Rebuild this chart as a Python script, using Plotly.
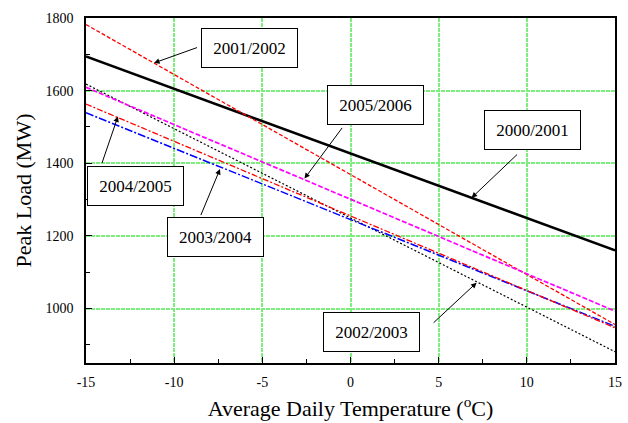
import plotly.graph_objects as go

# Data: regression lines of peak load vs. average daily temperature
temps = [-15, 15]
seasons = ["2000/2001", "2001/2002", "2002/2003", "2003/2004", "2004/2005", "2005/2006"]
load_2000_2001 = [1694, 1160]
load_2001_2002 = [1782, 956]
load_2002_2003 = [1618, 881]
load_2003_2004 = [1539, 951]
load_2004_2005 = [1563, 947]
load_2005_2006 = [1609, 993]

x_ticks = [-15, -10, -5, 0, 5, 10, 15]
x_tick_labels = ["-15", "-10", "-5", "0", "5", "10", "15"]
y_ticks = [1000, 1200, 1400, 1600, 1800]
y_tick_labels = ["1000", "1200", "1400", "1600", "1800"]

FONT = "Liberation Serif"

series = [
    (seasons[0], load_2000_2001, dict(color="black", width=2.5, dash="solid")),
    (seasons[1], load_2001_2002, dict(color="#ff0000", width=1.3, dash="4px,2px")),
    (seasons[2], load_2002_2003, dict(color="black", width=1.2, dash="2px,2px")),
    (seasons[3], load_2003_2004, dict(color="#0000ff", width=1.5, dash="8px,2px,2px,2px")),
    (seasons[4], load_2004_2005, dict(color="#ff0000", width=1.3, dash="6px,2px,2px,2px")),
    (seasons[5], load_2005_2006, dict(color="#ff00ff", width=1.7, dash="5px,2px")),
]

fig = go.Figure()
for name, vals, ln in series:
    fig.add_trace(go.Scatter(x=temps, y=vals, mode="lines", name=name, line=ln,
                             showlegend=False, hoverinfo="skip"))

# label boxes: (text, box centre x, box centre y, arrow tail x, tail y, head x, head y)
labels = [
    ("2001/2002", -5.71, 1716.7, -8.62, 1720.0, -11.14, 1676.3),
    ("2005/2006", 1.40, 1559.8, -0.41, 1501.6, -2.61, 1357.7),
    ("2000/2001", 10.34, 1492.9, 9.53, 1427.9, 6.87, 1305.0),
    ("2004/2005", -12.21, 1338.1, -14.12, 1396.8, -13.19, 1528.9),
    ("2003/2004", -7.67, 1195.8, -8.52, 1253.2, -7.40, 1384.0),
    ("2002/2003", 1.175, 936.5, 4.63, 957.2, 7.15, 1071.1),
]

annotations = []
for text, bx, by, tx, ty, hx, hy in labels:
    annotations.append(dict(
        x=hx, y=hy, xref="x", yref="y", ax=tx, ay=ty, axref="x", ayref="y",
        text="", showarrow=True, arrowhead=2, arrowsize=1.1, arrowwidth=1,
        arrowcolor="black", standoff=0, startstandoff=0))
    annotations.append(dict(
        x=bx, y=by, xref="x", yref="y", text=text, showarrow=False,
        font=dict(family=FONT, size=17, color="black"),
        bgcolor="white", bordercolor="black", borderwidth=1, borderpad=0,
        width=95, height=38, align="center", valign="middle"))

fig.update_layout(
    width=628, height=423,
    margin=dict(l=86, r=6, t=18, b=57),
    paper_bgcolor="white", plot_bgcolor="white",
    font=dict(family=FONT, color="black"),
    annotations=annotations,
)

grid = dict(showgrid=True, gridcolor="rgb(125,238,125)", gridwidth=1.5, griddash="4px,1px")

fig.update_xaxes(
    range=[-15, 15], tickmode="array", tickvals=x_ticks, ticktext=x_tick_labels,
    ticks="inside", ticklen=6, tickwidth=1.2, tickcolor="black",
    minor=dict(dtick=2.5, tick0=-15, ticks="inside", ticklen=4, tickcolor="black", showgrid=False),
    showline=True, linecolor="black", linewidth=1.5, mirror=True,
    tickfont=dict(family=FONT, size=14, color="black"), ticklabelstandoff=5,
    title=dict(text="Average Daily Temperature (<sup>o</sup>C)",
               font=dict(family=FONT, size=22, color="black"), standoff=12),
    zeroline=False, **grid)

fig.update_yaxes(
    range=[850, 1800], tickmode="array", tickvals=y_ticks, ticktext=y_tick_labels,
    ticks="inside", ticklen=6, tickwidth=1.2, tickcolor="black",
    minor=dict(dtick=100, tick0=900, ticks="inside", ticklen=4, tickcolor="black", showgrid=False),
    showline=True, linecolor="black", linewidth=1.5, mirror=True,
    tickfont=dict(family=FONT, size=14, color="black"), ticklabelstandoff=8,
    title=dict(text="Peak Load (MW)", font=dict(family=FONT, size=22, color="black"), standoff=8),
    zeroline=False, **grid)

fig.write_html("out.html")
